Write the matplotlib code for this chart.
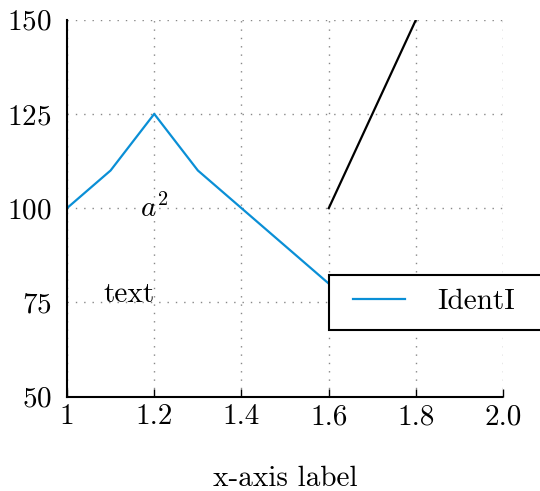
import matplotlib
matplotlib.use('Agg')
import matplotlib.pyplot as plt
from matplotlib.patches import Rectangle

plt.rcParams['font.family'] = 'cmr10'
plt.rcParams['mathtext.fontset'] = 'cm'
plt.rcParams['axes.formatter.use_mathtext'] = True

# data
x_blue = [1.0, 1.1, 1.2, 1.3, 1.4, 1.5, 1.6]
y_blue = [100, 110, 125, 110, 100, 90, 80]
x_black = [1.6, 1.8]
y_black = [100, 150]
xticks = [1.0, 1.2, 1.4, 1.6, 1.8, 2.0]
xticklabels = ['1', '1.2', '1.4', '1.6', '1.8', '2.0']
yticks = [50, 75, 100, 125, 150]

fs = 21

fig = plt.figure(figsize=(5.4, 4.91), dpi=100)
ax = fig.add_axes([0.124, 0.192, 0.808, 0.768])

ax.plot(x_blue, y_blue, color='#0a8fd6', lw=1.6, label='IdentI')
ax.plot(x_black, y_black, color='black', lw=1.6)

ax.text(1.2, 75, 'text', ha='right', va='baseline', fontsize=fs)
ax.text(1.2, 100, '$a^2$', ha='center', va='center', fontsize=fs)

ax.set_xlim(1, 2)
ax.set_ylim(50, 150)
ax.set_xticks(xticks)
ax.set_xticklabels(xticklabels)
ax.set_yticks(yticks)
ax.tick_params(axis='both', direction='in', length=6, width=1, labelsize=fs)
ax.tick_params(axis='x', pad=5)
ax.tick_params(axis='y', length=0, pad=11)

ax.grid(True, linestyle=(0, (1, 5)), color='#888888', lw=1)
ax.spines['top'].set_visible(False)
ax.spines['right'].set_visible(False)
ax.spines['left'].set_linewidth(1.5)
ax.spines['bottom'].set_linewidth(1.5)
ax.spines['bottom'].set_linestyle((0, (6, 1)))

ax.set_xlabel('x-axis label', fontsize=fs, labelpad=26)

# legend box (runs off the right side of the figure)
box = Rectangle((0.601, 0.178), 0.6, 0.146, transform=ax.transAxes,
                facecolor='white', edgecolor='black', lw=1.5,
                clip_on=False, zorder=4)
ax.add_patch(box)
leg = ax.legend(loc='center left', bbox_to_anchor=(0.655, 0.252), fontsize=fs,
                frameon=False, handlelength=1.8, handletextpad=1.1,
                borderpad=0, borderaxespad=0)
leg.set_zorder(5)

fig.savefig('out.png', dpi=100)
